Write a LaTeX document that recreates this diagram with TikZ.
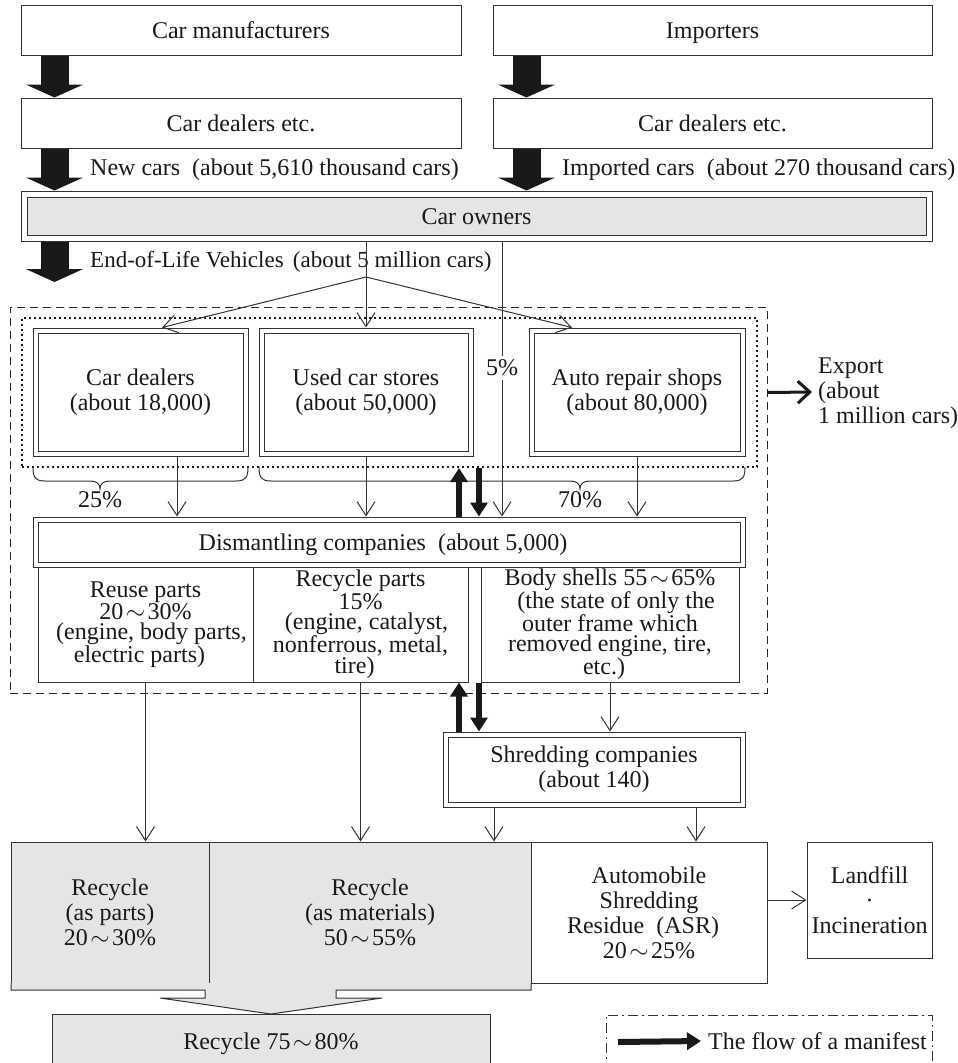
\documentclass[tikz,border=0pt]{standalone}
\usepackage{fontspec}
\setmainfont{Liberation Serif}
\usepackage{tikz}
\usetikzlibrary{arrows.meta}

\newcommand{\lp}{\hspace*{0.5em}(}
\newcommand{\rp}{)\hspace*{0.5em}\null}
\newcommand{\wave}{\hspace{0.1em}$\sim$\hspace{0.1em}}

\begin{document}
\begin{tikzpicture}[
    x=1pt, y=-1pt,
    every node/.style={font=\fontsize{24}{25}\selectfont, text=black!90},
    box/.style={draw=black!80, line width=1pt, inner sep=0pt, align=center},
    dbox/.style={box, double, double distance=4pt, outer sep=3pt},
    graybox/.style={box, fill=black!10},
    oneline/.style={text height=17pt, text depth=1pt},
    tight/.style={font=\fontsize{24}{20}\selectfont},
    note/.style={anchor=west, inner sep=0pt, align=left},
    line/.style={draw=black!80, line width=1pt},
    arr/.style={line, -{Straight Barb[length=14pt, width=18pt]}},
    bigarrow/.style={draw=black!90, line width=28pt, -{Triangle[length=13pt, width=57pt]}},
    manifest/.style={draw=black!90, line width=6pt, -{Triangle[length=14pt, width=17pt]}},
    export/.style={draw=black!90, line width=3pt, -{Straight Barb[length=12pt, width=22pt]}}
  ]
  \useasboundingbox (0,0) rectangle (958,1063);

  % Makers and importers
  \node[box, oneline, minimum width=440pt, minimum height=50pt] (maker) at (241,30) {Car manufacturers};
  \node[box, oneline, minimum width=439pt, minimum height=50pt] (importer) at (712.5,30) {Importers};
  \node[box, oneline, minimum width=440pt, minimum height=50pt] (dealerL) at (241,123) {Car dealers etc.};
  \node[box, oneline, minimum width=439pt, minimum height=50pt] (dealerR) at (712.5,123) {Car dealers etc.};

  % Car owners
  \node[box, oneline, fill=black!10, double, double distance=5pt, outer sep=3.5pt,
        minimum width=905pt, minimum height=44pt] (owners) at (476.5,216) {Car owners};

  \draw[bigarrow] ([xshift=34pt]maker.south west) -- ([xshift=34pt]dealerL.north west);
  \draw[bigarrow] ([xshift=34pt]importer.south west) -- ([xshift=34pt]dealerR.north west);
  \draw[bigarrow] ([xshift=34pt]dealerL.south west) -- ([xshift=34pt]owners.north west);
  \draw[bigarrow] ([xshift=34pt]dealerR.south west) -- ([xshift=34pt]owners.north west -| dealerR.south west);
  \coordinate (elvend) at (54.5,282);
  \draw[bigarrow] ([xshift=34pt]owners.south west) -- (elvend);

  \node[note] (newcars) at (90,170) {New cars\lp about 5,610 thousand cars\rp};
  \node[note] (impcars) at (562,170) {Imported cars\lp about 270 thousand cars\rp};
  \node[note, font=\fontsize{23}{25}\selectfont] (elv) at (90,262) {End-of-Life Vehicles\hspace*{0.4em}(about 5 million cars)};

  % Frames
  \node[draw=black!85, line width=1pt, dash pattern=on 8pt off 5pt,
        minimum width=757pt, minimum height=386pt] (area) at (388.5,500) {};
  \node[draw=black!90, line width=2pt, dash pattern=on 2pt off 3pt,
        minimum width=735pt, minimum height=149pt] (shops) at (389.5,392.5) {};

  % Collection
  \node[dbox, minimum width=210pt, minimum height=123pt] (cdealer) at (140.5,392) {Car dealers\\\lp about 18,000\rp};
  \node[dbox, minimum width=209pt, minimum height=123pt] (usedcar) at (366,392) {Used car stores\\\lp about 50,000\rp};
  \node[dbox, minimum width=211pt, minimum height=123pt] (repair) at (637,392) {Auto repair shops\\\lp about 80,000\rp};

  \coordinate (split) at (366,277);
  \draw[line] (owners.south -| split) -- (split);
  \draw[arr] (split) -- ([xshift=21.5pt]cdealer.north);
  \draw[arr] (split) -- (usedcar.north);
  \draw[arr] (split) -- ([xshift=-65pt]repair.north);

  % Dismantling
  \node[dbox, oneline, minimum width=707pt, minimum height=45pt] (dism) at (389,542) {Dismantling companies\lp about 5,000\rp};

  \node[fill=white, inner sep=4pt] (five) at (502,368) {5\%};
  \draw[line] (owners.south -| five) -- (five);
  \draw[arr] (five) -- (five |- dism.north);

  \draw[line] (33,467) .. controls (33,477) and (35,481) .. (45,481) -- (90,481)
    .. controls (97,481) and (100,484) .. (100,489) .. controls (100,484) and (103,481) .. (110,481)
    -- (236,481) .. controls (246,481) and (248,477) .. (248,467);
  \draw[line] (259,467) .. controls (259,477) and (261,481) .. (271,481) -- (570,481)
    .. controls (577,481) and (580,484) .. (580,489) .. controls (580,484) and (583,481) .. (590,481)
    -- (733,481) .. controls (743,481) and (745,477) .. (745,467);
  \node (p25) at (100,500) {25\%};
  \node (p70) at (580,500) {70\%};

  \coordinate (c1) at ([xshift=36.5pt]cdealer.south);
  \draw[arr] (c1) -- (c1 |- dism.north);
  \draw[arr] (usedcar.south) -- (usedcar.south |- dism.north);
  \draw[arr] (repair.south) -- (repair.south |- dism.north);

  \node[box, tight, minimum width=215pt, minimum height=115pt] (reuse) at (145.5,624.5)
    {Reuse parts\\20\wave30\%\\\lp engine, body parts,\\electric parts\rp};
  \node[box, tight, minimum width=215pt, minimum height=115pt] (recpart) at (360.5,624.5)
    {Recycle parts\\15\%\\\lp engine, catalyst,\\nonferrous, metal,\\tire\rp};
  \node[box, tight, minimum width=258pt, minimum height=115pt] (shell) at (610,624.5)
    {Body shells 55\wave65\%\\\lp the state of only the\\outer frame which\\removed engine, tire,\\etc.\rp};

  % Shredding
  \node[dbox, minimum width=297pt, minimum height=70pt] (shredder) at (594,769.5) {Shredding companies\\\lp about 140\rp};
  \draw[arr] (shell.south) -- (shell.south |- shredder.north);

  % Manifest
  \coordinate (mup) at (459,0);
  \coordinate (mdown) at (479,0);
  \draw[manifest] (mup |- dism.north) -- (mup |- shops.south);
  \draw[manifest] (mdown |- shops.south) -- (mdown |- dism.north);
  \draw[manifest] (mup |- shredder.north) -- (mup |- shell.south);
  \draw[manifest] (mdown |- shell.south) -- (mdown |- shredder.north);

  % Export
  \coordinate (expend) at (812,392);
  \draw[export] (area.east |- shops.east) -- (expend);
  \node[note] (exporttxt) at (818,393) {Export\\(about\\1 million cars)};

  % Results
  \node[graybox, minimum width=198pt, minimum height=141pt] (rparts) at (110,912.5) {Recycle\\\lp as parts\rp\\20\wave30\%};
  \node[graybox, minimum width=322pt, minimum height=141pt] (rmat) at (370,912.5) {Recycle\\\lp as materials\rp\\50\wave55\%};
  \node[box, minimum width=236pt, minimum height=141pt] (asr) at (649,912.5) {Automobile\\Shredding\\Residue\lp ASR\rp\\20\wave25\%};
  \node[box, minimum width=125pt, minimum height=116pt] (landfill) at (869.5,900) {Landfill\\\textperiodcentered\\Incineration};

  \draw[arr] (reuse.south) -- (reuse.south |- rparts.north);
  \draw[arr] (recpart.south) -- (recpart.south |- rmat.north);
  \coordinate (s1) at ([xshift=-100pt]shredder.south);
  \coordinate (s2) at ([xshift=102pt]shredder.south);
  \draw[arr] (s1) -- (s1 |- rmat.north);
  \draw[arr] (s2) -- (s2 |- asr.north);
  \draw[arr] (asr.east |- landfill.west) -- (landfill.west);

  \draw[line, fill=black!10] (11,983) -- (11,990) -- (205,990) -- (205,998) -- (160,998) -- (271,1014)
    -- (382,998) -- (336,998) -- (336,990) -- (531,990) -- (531,983);
  \node[graybox, oneline, minimum width=438pt, minimum height=54pt] (total) at (271,1041) {Recycle 75\wave80\%};

  % Legend
  \node[draw=black!80, line width=1pt, dash pattern=on 10pt off 4pt on 2pt off 4pt,
        minimum width=326pt, minimum height=60pt] (legend) at (769,1045) {};
  \node[note] (legtxt) at (708,1041) {The flow of a manifest};
  \coordinate (legarrow) at (618,1042);
  \draw[manifest] (legarrow) -- ([xshift=-7pt]legtxt.west);

\end{tikzpicture}
\end{document}
